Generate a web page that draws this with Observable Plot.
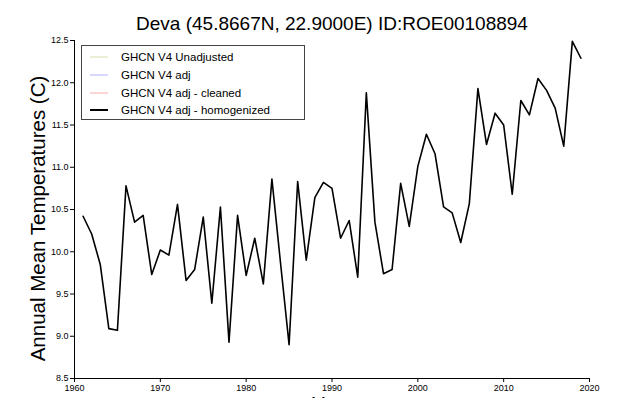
<!DOCTYPE html>
<html>
<head>
<meta charset="utf-8">
<script src="https://cdn.jsdelivr.net/npm/d3@7"></script>
<script src="https://cdn.jsdelivr.net/npm/@observablehq/plot@0.6"></script>
<style>
html, body { margin: 0; padding: 0; background: #fff; overflow: hidden; }
#wrap { position: relative; width: 640px; height: 398px; overflow: hidden;
  font-family: "Liberation Sans", Arial, Helvetica, sans-serif; }
.legend { position: absolute; left: 81px; top: 45px; width: 224px; height: 75px;
  border: 1px solid #444; box-sizing: border-box; background: #fff; }
.legend .row { position: absolute; left: 0; height: 16px; font-size: 11.5px; color: #000; line-height: 16px; white-space: nowrap; }
.legend .swatch { position: absolute; left: 8px; top: 7px; width: 18px; height: 0; border-top-width: 2px; border-top-style: solid; }
.legend .lab { position: absolute; left: 39px; top: 0; }
</style>
</head>
<body>
<div id="wrap"></div>
<script>
const title = "Deva (45.8667N, 22.9000E) ID:ROE00108894";
const yLabel = "Annual Mean Temperatures (C)";
const xLabel = "Year";

const years = [1961,1962,1963,1964,1965,1966,1967,1968,1969,1970,
  1971,1972,1973,1974,1975,1976,1977,1978,1979,1980,
  1981,1982,1983,1984,1985,1986,1987,1988,1989,1990,
  1991,1992,1993,1994,1995,1996,1997,1998,1999,2000,
  2001,2002,2003,2004,2005,2006,2007,2008,2009,2010,
  2011,2012,2013,2014,2015,2016,2017,2018,2019];
const homogenized = [10.42,10.21,9.85,9.09,9.07,10.78,10.35,10.43,9.73,10.02,
  9.96,10.56,9.66,9.79,10.41,9.39,10.53,8.93,10.43,9.72,
  10.16,9.62,10.86,9.87,8.90,10.83,9.90,10.64,10.82,10.75,
  10.16,10.37,9.70,11.88,10.35,9.74,9.79,10.81,10.30,11.01,
  11.39,11.16,10.53,10.46,10.11,10.57,11.93,11.27,11.64,11.50,
  10.68,11.79,11.62,12.05,11.91,11.70,11.25,12.49,12.29];

const xTicks = [1960,1970,1980,1990,2000,2010,2020];
const yTicks = [8.5,9.0,9.5,10.0,10.5,11.0,11.5,12.0,12.5];

const seriesNames = ["GHCN V4 Unadjusted","GHCN V4 adj","GHCN V4 adj - cleaned","GHCN V4 adj - homogenized"];
const seriesColors = ["#e9f0d6","#d6d8ff","#ffd6d6","#000000"];

const data = years.map((y, i) => ({year: y, t: homogenized[i]}));

const chart = Plot.plot({
  width: 640,
  height: 398,
  marginLeft: 74,
  marginRight: 51,
  marginTop: 40,
  marginBottom: 20,
  style: {fontFamily: '"Liberation Sans", Arial, Helvetica, sans-serif', fontSize: "9px", background: "#fff", overflow: "hidden"},
  x: {domain: [1960, 2020], ticks: xTicks, tickFormat: d3.format("d"), tickSize: 4, tickPadding: 2, line: true, label: null},
  y: {domain: [8.5, 12.5], ticks: yTicks, tickFormat: d3.format(".1f"), tickSize: 4, tickPadding: 2, line: true, label: null},
  marks: [
    Plot.line(data, {x: "year", y: "t", stroke: seriesColors[3], strokeWidth: 1.6}),
    Plot.text([title], {frameAnchor: "top", dy: -11, lineAnchor: "bottom", fontSize: 19, fill: "#000", text: d => d}),
    Plot.text([yLabel], {frameAnchor: "left", textAnchor: "middle", lineAnchor: "middle", dx: -36, dy: 9, rotate: -90, fontSize: 20.5, fill: "#000", text: d => d}),
    Plot.text([xLabel], {frameAnchor: "bottom", dy: 18, lineAnchor: "top", fontSize: 20, fill: "#000", text: d => d})
  ]
});
chart.querySelectorAll("path, line").forEach(el => {
  if (el.getAttribute("stroke") === "currentColor") el.setAttribute("stroke", "#000");
});
const wrap = document.getElementById("wrap");
wrap.appendChild(chart);

const legend = d3.select(wrap).append("div").attr("class", "legend");
const rowTops = [3, 21, 39, 56];
seriesNames.forEach((name, i) => {
  const row = legend.append("div").attr("class", "row").style("top", rowTops[i] + "px");
  row.append("div").attr("class", "swatch").style("border-top-color", seriesColors[i]);
  row.append("div").attr("class", "lab").text(name);
});
</script>
</body>
</html>
